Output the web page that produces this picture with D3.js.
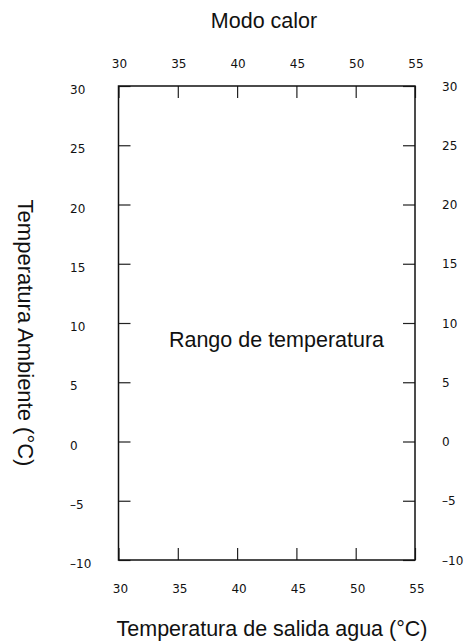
<!DOCTYPE html>
<html>
<head>
<meta charset="utf-8">
<script src="https://cdn.jsdelivr.net/npm/d3@7"></script>
<style>
  html, body { margin: 0; padding: 0; background: #fff; }
  svg { display: block; }
</style>
</head>
<body>
<svg id="chart" width="464" height="644"></svg>
<script>
const xTicks = [30, 35, 40, 45, 50, 55];
const yTicks = [-10, -5, 0, 5, 10, 15, 20, 25, 30];
const xDomain = [30, 55];
const yDomain = [-10, 30];
const titleText = "Modo calor";
const xTitleText = "Temperatura de salida agua (°C)";
const yTitleText = "Temperatura Ambiente (°C)";
const regionText = "Rango de temperatura";

(function () {
const svg = d3.select("#chart");
const pL = 118.5, pR = 415, pT = 86, pB = 560;
const x = d3.scaleLinear().domain(xDomain).range([pL, pR]);
const y = d3.scaleLinear().domain(yDomain).range([pB, pT]);

const tickFont = "'DejaVu Sans', Verdana, sans-serif";
const textFont = "'Liberation Sans', Arial, sans-serif";
const textSize = 21.5;

function styleAxis(g) {
  g.select(".domain").remove();
  g.selectAll(".tick line").attr("stroke", "#222").attr("stroke-width", 1.2);
  g.selectAll(".tick text").remove();
}

svg.append("g").attr("transform", `translate(0,${pB})`)
  .call(d3.axisBottom(x).tickValues(xTicks).tickSize(-12).tickFormat(""))
  .call(styleAxis);
svg.append("g").attr("transform", `translate(0,${pT})`)
  .call(d3.axisTop(x).tickValues(xTicks).tickSize(-12).tickFormat(""))
  .call(styleAxis);
svg.append("g").attr("transform", `translate(${pL},0)`)
  .call(d3.axisLeft(y).tickValues(yTicks).tickSize(-12).tickFormat(""))
  .call(styleAxis);
svg.append("g").attr("transform", `translate(${pR},0)`)
  .call(d3.axisRight(y).tickValues(yTicks).tickSize(-12).tickFormat(""))
  .call(styleAxis);

svg.append("rect")
  .attr("x", pL).attr("y", pT)
  .attr("width", pR - pL).attr("height", pB - pT)
  .attr("fill", "none").attr("stroke", "#111").attr("stroke-width", 1.5);

const fmt = v => v < 0 ? "\u2013" + Math.abs(v) : String(v);

svg.append("g").selectAll("text").data(xTicks).join("text")
  .attr("x", d => x(d) + 1).attr("y", 68)
  .attr("text-anchor", "middle")
  .attr("font-family", tickFont).attr("font-size", 12).attr("fill", "#111")
  .text(fmt);
svg.append("g").selectAll("text").data(xTicks).join("text")
  .attr("x", d => x(d) + 2).attr("y", 593)
  .attr("text-anchor", "middle")
  .attr("font-family", tickFont).attr("font-size", 12).attr("fill", "#111")
  .text(fmt);
svg.append("g").selectAll("text").data(yTicks).join("text")
  .attr("x", 70).attr("y", d => y(d) + 8)
  .attr("text-anchor", "start")
  .attr("font-family", tickFont).attr("font-size", 12).attr("fill", "#111")
  .text(fmt);
svg.append("g").selectAll("text").data(yTicks).join("text")
  .attr("x", 442).attr("y", d => y(d) + 4.5)
  .attr("text-anchor", "start")
  .attr("font-family", tickFont).attr("font-size", 12).attr("fill", "#111")
  .text(fmt);

svg.append("text")
  .attr("x", 264).attr("y", 28)
  .attr("text-anchor", "middle")
  .attr("font-family", textFont).attr("font-size", textSize).attr("fill", "#111")
  .text(titleText);
svg.append("text")
  .attr("x", 272).attr("y", 636)
  .attr("text-anchor", "middle")
  .attr("font-family", textFont).attr("font-size", textSize).attr("fill", "#111")
  .text(xTitleText);
svg.append("text")
  .attr("transform", `translate(17.5,333) rotate(90)`)
  .attr("text-anchor", "middle")
  .attr("font-family", textFont).attr("font-size", 22).attr("fill", "#111")
  .text(yTitleText);
svg.append("text")
  .attr("x", 276.5).attr("y", 347)
  .attr("text-anchor", "middle")
  .attr("font-family", textFont).attr("font-size", textSize).attr("fill", "#111")
  .text(regionText);
})();
</script>
</body>
</html>
